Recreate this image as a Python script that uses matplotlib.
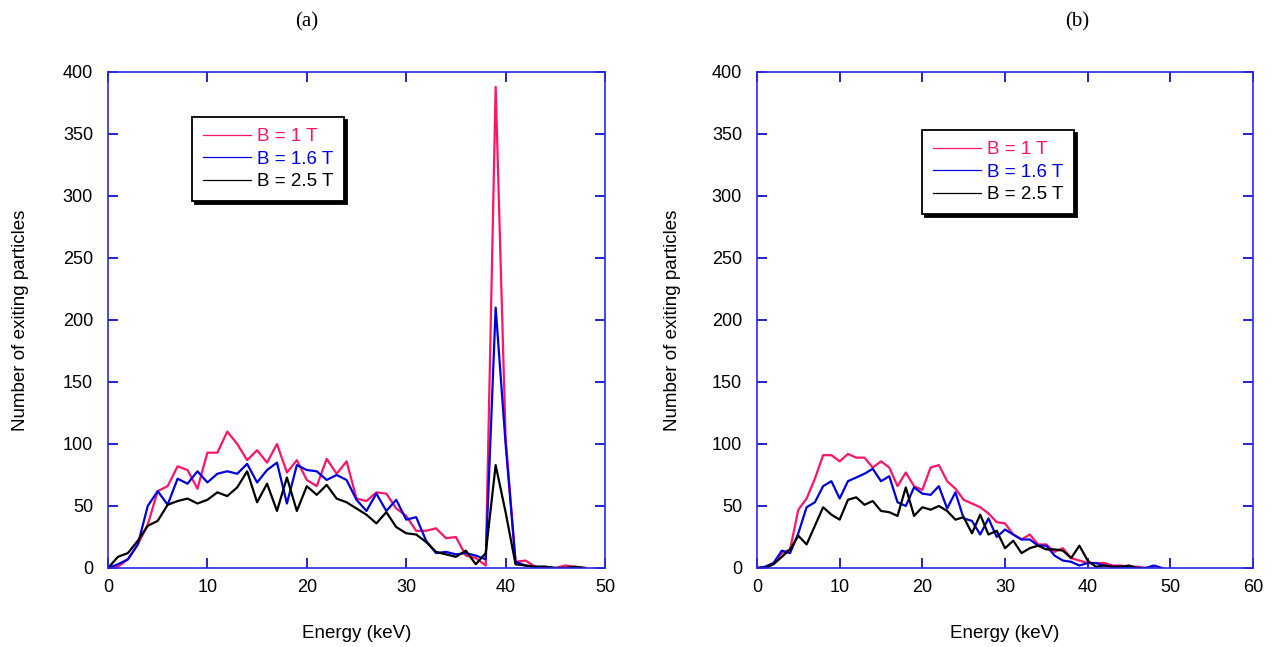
import matplotlib
matplotlib.use("Agg")
import matplotlib.pyplot as plt
from matplotlib.lines import Line2D

# ---------------- data ----------------
energy_a = list(range(0, 49))
b1_a = [0, 1, 7, 19, 35, 62, 66, 82, 79, 64, 93, 93, 110, 100, 87, 95, 85, 100, 77, 87,
        71, 66, 88, 76, 86, 56, 54, 61, 60, 48, 42, 30, 30, 32, 24, 25, 10, 8, 2, 388,
        105, 5, 6, 1, 0, 0, 2, 1, 0]
b16_a = [0, 3, 7, 19, 50, 62, 51, 72, 68, 78, 69, 76, 78, 76, 84, 69, 79, 85, 52, 83,
         79, 78, 71, 75, 71, 55, 46, 60, 46, 55, 39, 41, 22, 12, 13, 11, 12, 10, 7, 210,
         100, 5, 2, 1, 1, 0, 0, 0, 0]
b25_a = [0, 9, 12, 22, 34, 38, 51, 54, 56, 52, 55, 61, 58, 65, 78, 53, 68, 46, 73, 46,
         66, 59, 67, 56, 53, 48, 43, 36, 45, 33, 28, 27, 21, 13, 11, 9, 14, 3, 12, 83,
         45, 3, 2, 1, 1, 0, 0, 1, 0]

energy_b1 = list(range(0, 49))
b1_b = [0, 1, 4, 12, 15, 47, 56, 72, 91, 91, 86, 92, 89, 89, 81, 86, 81, 66, 77, 66,
        63, 81, 83, 70, 64, 55, 52, 49, 44, 37, 36, 27, 23, 27, 19, 19, 13, 16, 8, 6,
        4, 4, 4, 2, 2, 1, 1, 0, 0]
energy_b16 = list(range(0, 50))
b16_b = [0, 1, 4, 14, 12, 28, 49, 53, 66, 70, 56, 70, 73, 76, 80, 70, 74, 53, 50, 65,
         60, 59, 66, 48, 61, 40, 38, 27, 40, 25, 31, 27, 23, 23, 18, 18, 10, 6, 5, 2,
         4, 4, 2, 1, 1, 0, 0, 0, 2, 0]
energy_b25 = list(range(0, 48))
b25_b = [0, 0, 3, 9, 15, 26, 19, 34, 49, 43, 39, 55, 57, 51, 54, 46, 45, 42, 65, 42,
         49, 47, 50, 46, 39, 41, 28, 43, 27, 30, 16, 22, 12, 16, 18, 15, 15, 14, 8, 18,
         6, 1, 2, 1, 1, 2, 0, 0]

labels = ["B = 1 T", "B = 1.6 T", "B = 2.5 T"]
colors = ["#ff1466", "#0000dd", "#000000"]
panel_titles = ["(a)", "(b)"]
xlabel = "Energy (keV)"
ylabel = "Number of exiting particles"

# ---------------- style ----------------
W, H = 1280, 647
fig = plt.figure(figsize=(W / 100, H / 100), dpi=100)
plt.rcParams['font.family'] = ['Liberation Sans', 'DejaVu Sans']

spine_col = "#2a2ae6"
tick_col = "#0000cc"


def px_rect(x0, y0, x1, y1):
    return [x0 / W, 1 - y1 / H, (x1 - x0) / W, (y1 - y0) / H]


def style_axes(ax, xmax, xticks):
    ax.set_xlim(0, xmax)
    ax.set_ylim(0, 400)
    ax.set_xticks(xticks)
    ax.set_yticks(range(0, 401, 50))
    for s in ax.spines.values():
        s.set_color(spine_col)
        s.set_linewidth(1.2)
    ax.tick_params(axis='both', direction='in', length=7, width=1.2, color=tick_col,
                   top=True, right=True, labelsize=13, labelcolor='black')
    ax.tick_params(axis='x', pad=8)
    ax.tick_params(axis='y', pad=10.8)
    ax.set_xlabel(xlabel, fontsize=13.5)
    ax.set_ylabel(ylabel, fontsize=13.5)
    ax.xaxis.set_label_coords(0.5, -0.115)


def add_legend(ax, x0, y0):
    handles = [Line2D([], [], color=c, lw=0.9) for c in colors]
    leg = ax.legend(handles, labels, loc='upper left',
                    bbox_to_anchor=(x0 / W, 1 - y0 / H), bbox_transform=fig.transFigure,
                    borderaxespad=0, fancybox=False, frameon=True,
                    shadow={'color': 'black', 'alpha': 1.0},
                    handlelength=2.55, handletextpad=0.3, labelspacing=0.28,
                    borderpad=0.6, fontsize=13.5)
    fr = leg.get_frame()
    fr.set_edgecolor('black')
    fr.set_linewidth(1.3)
    fr.set_alpha(1)
    for t, c in zip(leg.get_texts(), colors):
        t.set_color(c)
    return leg


# Panel (a)
ax1 = fig.add_axes(px_rect(108, 72, 605, 568))
ax1.plot(energy_a, b1_a, color=colors[0], lw=1.6)
ax1.plot(energy_a, b16_a, color=colors[1], lw=1.6)
ax1.plot(energy_a, b25_a, color=colors[2], lw=1.6)
style_axes(ax1, 50, range(0, 51, 10))
ax1.yaxis.set_label_coords(-0.158, 0.5)
add_legend(ax1, 192, 117)

# Panel (b)
ax2 = fig.add_axes(px_rect(757, 72, 1253, 568))
ax2.plot(energy_b1, b1_b, color=colors[0], lw=1.6)
ax2.plot(energy_b16, b16_b, color=colors[1], lw=1.6)
ax2.plot(energy_b25, b25_b, color=colors[2], lw=1.6)
style_axes(ax2, 60, range(0, 61, 10))
ax2.yaxis.set_label_coords(-0.153, 0.5)
add_legend(ax2, 922, 130)

fig.text(307 / W, 1 - 22 / H, panel_titles[0], ha='center', va='center',
         fontsize=15, family=['Liberation Serif', 'DejaVu Serif'])
fig.text(1077 / W, 1 - 22 / H, panel_titles[1], ha='center', va='center',
         fontsize=15, family=['Liberation Serif', 'DejaVu Serif'])

fig.savefig("out.png", dpi=100)
